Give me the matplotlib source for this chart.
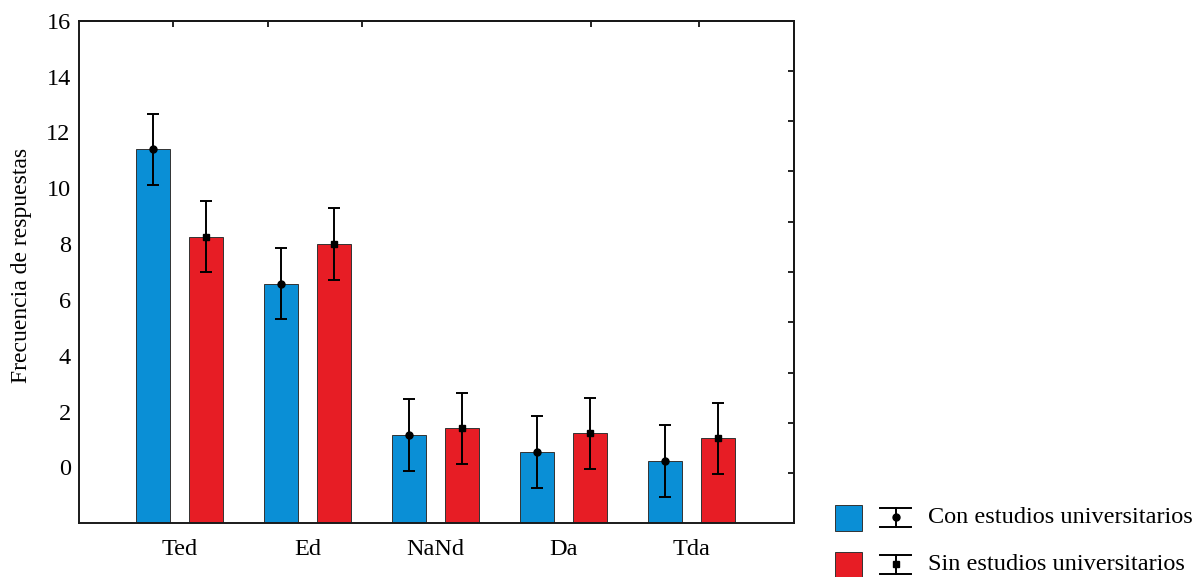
import matplotlib
matplotlib.use('Agg')
import matplotlib.pyplot as plt
import numpy as np
from matplotlib.patches import Rectangle
from matplotlib.lines import Line2D

# ---------------- data ----------------
categories = ['Ted', 'Ed', 'NaNd', 'Da', 'Tda']
con_vals = [11.40, 6.58, 1.16, 0.56, 0.23]
sin_vals = [8.27, 8.01, 1.40, 1.22, 1.04]
con_err = [1.27, 1.28, 1.29, 1.28, 1.28]
sin_err = [1.28, 1.28, 1.28, 1.28, 1.27]
series_labels = ['Con estudios universitarios', 'Sin estudios universitarios']
y_ticks = [0, 2, 4, 6, 8, 10, 12, 14, 16]
y_label = 'Frecuencia de respuestas'

# ---------------- style ----------------
plt.rcParams['font.family'] = ['Liberation Serif', 'DejaVu Serif']
BLUE = '#0A8FD6'
RED = '#E71D25'
EDGE = '#333333'
W, H = 1198, 577

fig = plt.figure(figsize=(W / 100, H / 100), dpi=100)
ax = fig.add_axes([79 / W, 1 - 523.3 / H, (794 - 79) / W, (523.3 - 20.7) / H])

ymin, ymax = -2, 16
x = np.arange(len(categories))
off = 0.207
bw = 0.266

con = np.array(con_vals)
sin = np.array(sin_vals)
ax.bar(x - off, con - ymin, bottom=ymin, width=bw, color=BLUE, edgecolor=EDGE, linewidth=0.7, zorder=2)
ax.bar(x + off, sin - ymin, bottom=ymin, width=bw, color=RED, edgecolor=EDGE, linewidth=0.7, zorder=2)
ax.errorbar(x - off, con, yerr=con_err, fmt='o', color='black', ms=5, capsize=4.1,
            elinewidth=1.4, capthick=1.4, zorder=3)
ax.errorbar(x + off, sin, yerr=sin_err, fmt='s', color='black', ms=4.5, capsize=4.1,
            elinewidth=1.4, capthick=1.4, zorder=3)

ax.set_xlim(-0.787, 4.80)
ax.set_ylim(ymin, ymax)
ax.set_yticks(y_ticks)
ax.set_yticklabels([str(t) for t in y_ticks], fontsize=17.5)
ax.set_xticks(x)
ax.set_xticklabels(categories, fontsize=17.5)
ax.tick_params(axis='x', length=0, pad=11.5)
ax.tick_params(axis='y', length=0, pad=6)
ax.set_ylabel(y_label, fontsize=17)
ax.yaxis.set_label_coords(-0.066, 0.513)

for s in ax.spines.values():
    s.set_linewidth(1.4)
    s.set_color('#1a1a1a')

# right-side inward ticks
sec_r = ax.secondary_yaxis('right')
sec_r.set_yticks([ymin + 1.8 * k for k in range(1, 10)])
sec_r.set_yticklabels([])
sec_r.tick_params(direction='in', length=4, width=1.2)
sec_r.spines['right'].set_linewidth(1.4)

# top inward ticks
sec_t = ax.secondary_xaxis('top')
sec_t.set_xticks([-0.052, 0.689, 1.422, 3.215, 4.061])
sec_t.set_xticklabels([])
sec_t.tick_params(direction='in', length=4, width=1.2)
sec_t.spines['top'].set_linewidth(1.4)

# ---------------- legend (manual) ----------------
def fx(px):
    return px / W

def fy(py):
    return 1 - py / H

tf = fig.transFigure
row_colors = [BLUE, RED]
row_markers = ['o', 's']
for i, (lab, col, mk) in enumerate(zip(series_labels, row_colors, row_markers)):
    dy = 47 * i
    fig.add_artist(Rectangle((fx(834.5), fy(531 + dy)), 27 / W, 26.5 / H, transform=tf,
                             facecolor=col, edgecolor=EDGE, linewidth=0.7))
    cx = 895.5
    top, bot, mid = 508.3 + dy, 526.7 + dy, 516.7 + dy
    fig.add_artist(Line2D([fx(cx), fx(cx)], [fy(top), fy(bot)], transform=tf, color='black', lw=1.4))
    fig.add_artist(Line2D([fx(880), fx(911)], [fy(top), fy(top)], transform=tf, color='black', lw=1.4))
    fig.add_artist(Line2D([fx(880), fx(911)], [fy(bot), fy(bot)], transform=tf, color='black', lw=1.4))
    fig.add_artist(Line2D([fx(cx)], [fy(mid)], transform=tf, color='black', marker=mk,
                          ms=5 if mk == 'o' else 4.5, lw=0))
    fig.text(fx(927.5), fy(523.3 + dy), lab, fontsize=17.5, va='baseline', ha='left')

fig.savefig('out.png', dpi=100)
